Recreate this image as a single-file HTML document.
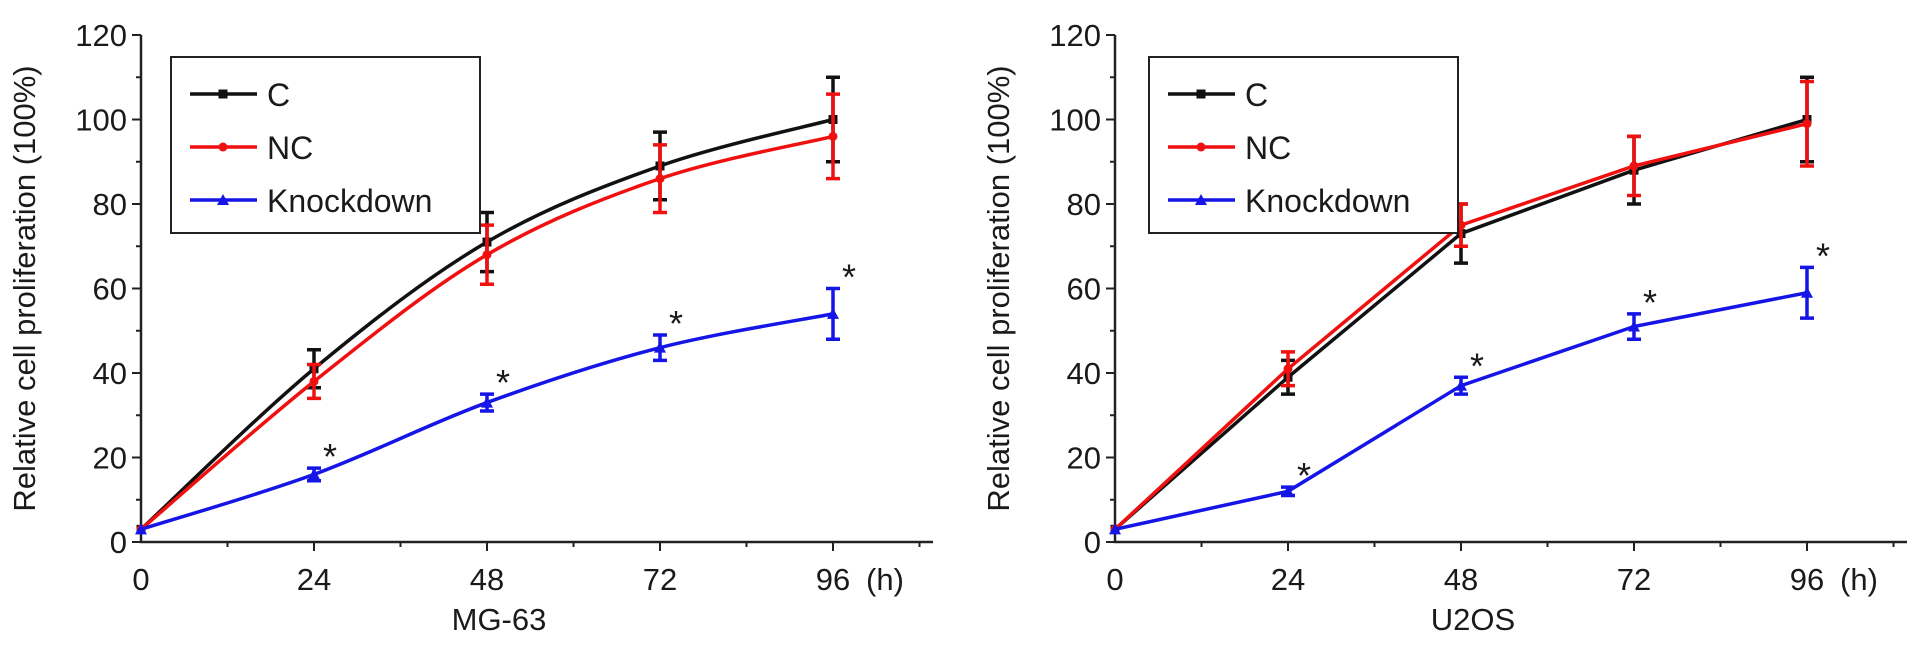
<!DOCTYPE html>
<html><head><meta charset="utf-8"><style>
body{margin:0;background:#fff;width:1913px;height:646px;overflow:hidden}
svg text{font-family:"Liberation Sans",sans-serif;fill:#1a1a1a}
</style></head><body>
<svg id="chart" width="1913" height="646" viewBox="0 0 1913 646" xmlns="http://www.w3.org/2000/svg"></svg>
<script>
const hours=[0,24,48,72,96];
const yTicks=[0,20,40,60,80,100,120];
const xTicks=[0,24,48,72,96];
const mgC=[3,41,71,89,100];const mgCErr=[0,4.5,7,8,10];
const mgNC=[3,38,68,86,96];const mgNCErr=[0,4,7,8,10];
const mgKD=[3,16,33,46,54];const mgKDErr=[0,1.5,2,3,6];
const uC=[3,39,73,88,100];const uCErr=[0,4,7,8,10];
const uNC=[3,41,75,89,99];const uNCErr=[0,4,5,7,10];
const uKD=[3,12,37,51,59];const uKDErr=[0,1,2,3,6];
const labels=["C","NC","Knockdown"];
const svg=document.getElementById('chart');
const NS="http://www.w3.org/2000/svg";
function mk(tag,attrs,parent){const e=document.createElementNS(NS,tag);for(const k in attrs)e.setAttribute(k,attrs[k]);(parent||svg).appendChild(e);return e;}
function spline(p){let d=`M${p[0][0]},${p[0][1]}`;for(let i=0;i<p.length-1;i++){const p0=p[Math.max(0,i-1)],p1=p[i],p2=p[i+1],p3=p[Math.min(p.length-1,i+2)];
 d+=`C${p1[0]+(p2[0]-p0[0])/6},${p1[1]+(p2[1]-p0[1])/6} ${p2[0]-(p3[0]-p1[0])/6},${p2[1]-(p3[1]-p1[1])/6} ${p2[0]},${p2[1]}`;}return d;}
function panel(x0,yb,title,series,legX,smooth){
  const g=mk('g',{});
  
  
  const xs=v=>x0+v*(692/96);
  const ys=v=>yb-v*(507/120);
  const ax=mk('path',{d:`M${x0},${ys(120)}V${yb}H${x0+792}`,stroke:'#222','stroke-width':2.5,fill:'none'},g);
  
  
  for(let v=0;v<=120;v+=10){mk('line',{x1:x0-(v%20?5:9),x2:x0,y1:ys(v),y2:ys(v),stroke:'#222','stroke-width':2},g);}
  for(let h=12;h<=108;h+=12){mk('line',{x1:xs(h),x2:xs(h),y1:yb,y2:yb+(h%24?5:9),stroke:'#222','stroke-width':2},g);}
  yTicks.forEach(v=>{const t=mk('text',{x:x0-14,y:ys(v)+11,'text-anchor':'end','font-size':31},g);t.textContent=v;
    
    });
  xTicks.forEach(v=>{const t=mk('text',{x:xs(v),y:590,'text-anchor':'middle','font-size':31},g);t.textContent=v;
    
    });
  const hu=mk('text',{x:xs(96)+33,y:590,'font-size':31},g);hu.textContent='(h)';
  
  
  const xt=mk('text',{x:x0+358,y:630,'text-anchor':'middle','font-size':31},g);xt.textContent=title;
  
  
  const yt=mk('text',{transform:`translate(${x0-106},${ys(60)}) rotate(-90)`,'text-anchor':'middle','font-size':31},g);yt.textContent='Relative cell proliferation (100%)';
  
  
  series.forEach((s,si)=>{
    const sg=mk('g',{},g);
    
    
    const pts=s.v.map((v,i)=>[xs(hours[i]),ys(v)]);
    mk('path',{d:smooth?spline(pts):'M'+pts.map(p=>p.join(',')).join('L'),fill:'none',stroke:s.c,'stroke-width':3.5},sg);
    s.v.forEach((v,i)=>{
      const cx=xs(hours[i]);
      if(s.e[i]>0){const t=ys(v+s.e[i]),b=ys(v-s.e[i]);
        mk('path',{d:`M${cx},${t}V${b}M${cx-7},${t}H${cx+7}M${cx-7},${b}H${cx+7}`,stroke:s.c,'stroke-width':3.5,fill:'none'},sg);}
      if(si===2)mk('path',{d:`M${cx-6},${ys(v)+5}L${cx},${ys(v)-6}L${cx+6},${ys(v)+5}Z`,fill:s.c},sg);
      else if(si===0)mk('rect',{x:cx-4.5,y:ys(v)-4.5,width:9,height:9,fill:s.c},sg);
      else mk('circle',{cx:cx,cy:ys(v),r:4.5,fill:s.c},sg);
      if(si===2&&i>0){const st=mk('text',{x:cx+16,y:ys(v+s.e[i]+4)+18,'text-anchor':'middle','font-size':36},g);st.textContent='*';
        
        }
    });
  });
  const lg=mk('g',{},g);
  
  
  mk('rect',{x:legX,y:57,width:309,height:176,fill:'#fff',stroke:'#222','stroke-width':2},lg);
  series.forEach((s,si)=>{
    const y=94+si*53;
    const en=mk('g',{},lg);
    
    
    mk('line',{x1:legX+19,x2:legX+86,y1:y,y2:y,stroke:s.c,'stroke-width':3.5},en);
    if(si===2)mk('path',{d:`M${legX+46},${y+5}L${legX+52},${y-6}L${legX+58},${y+5}Z`,fill:s.c},en);
    else if(si===0)mk('rect',{x:legX+47.5,y:y-4.5,width:9,height:9,fill:s.c},en);
    else mk('circle',{cx:legX+52,cy:y,r:4.5,fill:s.c},en);
    const t=mk('text',{x:legX+96,y:y+12,'font-size':32},en);t.textContent=labels[si];
  });
}
panel(141,542,'MG-63',[{v:mgC,e:mgCErr,c:'#111'},{v:mgNC,e:mgNCErr,c:'#f01010'},{v:mgKD,e:mgKDErr,c:'#1515e8'}],171,true);
panel(1115,542,'U2OS',[{v:uC,e:uCErr,c:'#111'},{v:uNC,e:uNCErr,c:'#f01010'},{v:uKD,e:uKDErr,c:'#1515e8'}],1149,false);
</script>
</body></html>
